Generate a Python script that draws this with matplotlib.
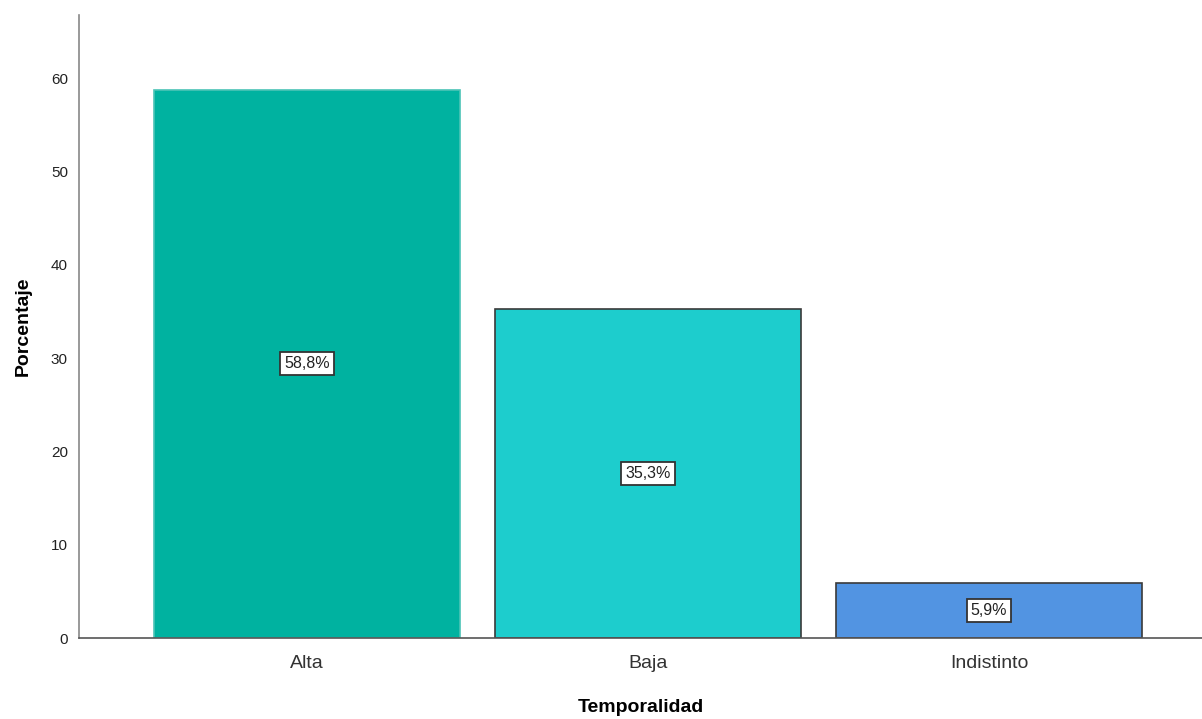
import matplotlib
matplotlib.use("Agg")
import matplotlib.pyplot as plt

categories = ["Alta", "Baja", "Indistinto"]
values = [58.8, 35.3, 5.9]
labels = ["58,8%", "35,3%", "5,9%"]
colors = ["#00B2A0", "#1DCDCD", "#5294E2"]
edgecolors = ["#4CC4B6", "#3A3A3A", "#3A3A3A"]
yticks = [0, 10, 20, 30, 40, 50, 60]

plt.rcParams['font.family'] = ['Liberation Sans', 'DejaVu Sans']

fig = plt.figure(figsize=(12.02, 7.19), dpi=100)
ax = fig.add_axes([79/1202, 81/719, 1 - 79/1202, (638-15)/719])

x = list(range(len(categories)))
bars = ax.bar(x, values, width=0.897, color=colors, edgecolor=edgecolors, linewidth=1.2, zorder=2)

for xi, v, lab in zip(x, values, labels):
    ax.text(xi, v / 2, lab, ha='center', va='center', fontsize=11.5, color='#222222',
            bbox=dict(boxstyle='square,pad=0.25', facecolor='white', edgecolor='#333333', linewidth=1.3),
            zorder=3)

ax.set_xlim(-0.6686, 2.6246)
ax.set_ylim(0, 66.8)
ax.set_yticks(yticks)
ax.set_xticks(x)
ax.set_xticklabels(categories, fontsize=14, color='#333333')
ax.tick_params(axis='y', length=0, labelsize=11, pad=8, labelcolor='#222222')
ax.tick_params(axis='x', length=0, pad=12)

for s in ['top', 'right']:
    ax.spines[s].set_visible(False)
ax.spines['left'].set_color('#888888')
ax.spines['bottom'].set_color('#555555')
ax.spines['left'].set_linewidth(1.2)
ax.spines['bottom'].set_linewidth(1.2)

ax.set_ylabel("Porcentaje", fontsize=14, fontweight='bold', labelpad=14)
ax.set_xlabel("Temporalidad", fontsize=14, fontweight='bold', labelpad=20)

fig.savefig("out.png", dpi=100)
